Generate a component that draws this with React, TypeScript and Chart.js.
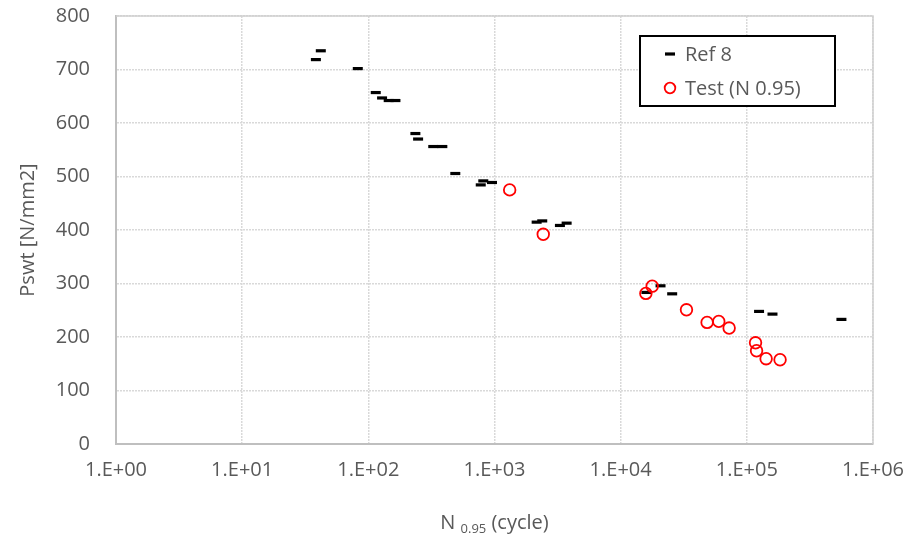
import React, { useEffect, useRef } from "react";
import { Chart, registerables } from "chart.js";

Chart.register(...registerables);

// ---- data ----
const refCycles = [38.4, 42.0, 82.5, 114.5, 128.5, 145, 164, 236, 248, 327, 386, 489, 778, 815, 955, 2158, 2390, 3300, 3730, 16000, 20700, 25600, 125000, 159700, 562000];
const refStress = [718.5, 735, 701.7, 656.9, 646.8, 642, 642, 580.3, 570, 556, 556, 505.6, 484.3, 491.8, 488.8, 414.7, 417, 408.5, 412.8, 283.3, 295.7, 280.7, 247.8, 242.8, 232.9];

const testCycles = [1319, 2434, 15840, 17780, 33230, 48430, 59930, 72400, 117200, 119400, 142200, 183400];
const testStress = [475, 392, 281.5, 295, 250.8, 227.3, 229.2, 216.7, 189.2, 174.3, 159.4, 157.5];

const seriesNames = ["Ref 8", "Test (N 0.95)"];
const xTickValues = [1, 10, 100, 1000, 10000, 100000, 1000000];
const xTickLabels = ["1.E+00", "1.E+01", "1.E+02", "1.E+03", "1.E+04", "1.E+05", "1.E+06"];
const yTickStep = 100;
const yMin = 0;
const yMax = 800;
const yTitle = "Pswt [N/mm2]";
const xTitleMain = "N";
const xTitleSub = "0.95";
const xTitleRest = "(cycle)";

const FONT = "'Open Sans', sans-serif";
const TEXT_COLOR = "#595959";

export default function App() {
  const canvasRef = useRef<HTMLCanvasElement | null>(null);

  useEffect(() => {
    document.body.style.margin = "0";
    const canvas = canvasRef.current;
    if (!canvas) return;

    const frame = {
      id: "frameAndTitles",
      beforeDatasetsDraw(chart: any) {
        const { ctx, chartArea } = chart;
        ctx.save();
        ctx.strokeStyle = "#d0d0d0";
        ctx.lineWidth = 1.5;
        ctx.beginPath();
        ctx.moveTo(chartArea.left, chartArea.top);
        ctx.lineTo(chartArea.right, chartArea.top);
        ctx.lineTo(chartArea.right, chartArea.bottom);
        ctx.stroke();
        ctx.restore();
      },
      afterDraw(chart: any) {
        const { ctx, chartArea } = chart;
        ctx.save();
        // x axis title with subscript
        const big = "20px " + FONT;
        const small = "13px " + FONT;
        ctx.fillStyle = TEXT_COLOR;
        ctx.textBaseline = "alphabetic";
        ctx.font = big;
        const w1 = ctx.measureText(xTitleMain + " ").width;
        const w3 = ctx.measureText(" " + xTitleRest).width;
        ctx.font = small;
        const w2 = ctx.measureText(xTitleSub).width;
        const total = w1 + w2 + w3;
        let x = (chartArea.left + chartArea.right) / 2 - total / 2;
        const base = 529;
        ctx.font = big;
        ctx.fillText(xTitleMain + " ", x, base);
        x += w1;
        ctx.font = small;
        ctx.fillText(xTitleSub, x, base + 4);
        x += w2;
        ctx.font = big;
        ctx.fillText(" " + xTitleRest, x, base);

        // legend
        const bx = 640, by = 36, bw = 195, bh = 70;
        ctx.fillStyle = "#ffffff";
        ctx.fillRect(bx, by, bw, bh);
        ctx.strokeStyle = "#000000";
        ctx.lineWidth = 2;
        ctx.strokeRect(bx, by, bw, bh);
        const ds = chart.data.datasets;
        const mx = 670;
        const rows = [54, 88];
        ds.forEach((d: any, i: number) => {
          const y = rows[i];
          ctx.save();
          if (d.pointStyle === "line") {
            ctx.strokeStyle = d.borderColor;
            ctx.lineWidth = d.borderWidth;
            ctx.beginPath();
            ctx.moveTo(mx - d.pointRadius, y);
            ctx.lineTo(mx + d.pointRadius, y);
            ctx.stroke();
          } else {
            ctx.strokeStyle = d.borderColor;
            ctx.lineWidth = d.borderWidth;
            ctx.beginPath();
            ctx.arc(mx, y, d.pointRadius - 0.5, 0, Math.PI * 2);
            ctx.stroke();
          }
          ctx.restore();
          ctx.font = "20px " + FONT;
          ctx.fillStyle = TEXT_COLOR;
          ctx.textBaseline = "middle";
          ctx.fillText(d.label, 685, y + 1);
        });
        ctx.restore();
      },
    };

    const chart = new Chart(canvas, {
      type: "scatter",
      data: {
        datasets: [
          {
            label: seriesNames[0],
            data: refCycles.map((c, i) => ({ x: c, y: refStress[i] })),
            pointStyle: "line",
            pointRadius: 5,
            pointHoverRadius: 5,
            borderColor: "#000000",
            backgroundColor: "#000000",
            borderWidth: 3.2,
            showLine: false,
            order: 1,
          },
          {
            label: seriesNames[1],
            data: testCycles.map((c, i) => ({ x: c, y: testStress[i] })),
            pointStyle: "circle",
            pointRadius: 5.8,
            pointHoverRadius: 5.8,
            borderColor: "#ff0000",
            backgroundColor: "rgba(0,0,0,0)",
            borderWidth: 1.8,
            showLine: false,
            order: 0,
          },
        ],
      },
      options: {
        responsive: false,
        animation: false,
        layout: { padding: { left: 0, right: 50, top: 16, bottom: 0 } },
        plugins: {
          legend: { display: false },
          tooltip: { enabled: false },
          title: { display: false },
        },
        scales: {
          x: {
            type: "logarithmic",
            min: xTickValues[0],
            max: xTickValues[xTickValues.length - 1],
            afterBuildTicks: (s: any) => {
              s.ticks = xTickValues.map((v) => ({ value: v }));
            },
            afterFit: (s: any) => {
              s.height = 93;
            },
            ticks: {
              autoSkip: false,
              maxRotation: 0,
              padding: 14,
              color: TEXT_COLOR,
              font: { family: FONT, size: 20 },
              callback: (v: any) => {
                const idx = xTickValues.indexOf(Number(v));
                return idx >= 0 ? xTickLabels[idx] : "";
              },
            },
            grid: {
              color: "#d9d9d9",
              lineWidth: 1.5,
              drawTicks: false,
            },
            border: { display: true, color: "#bfbfbf", width: 2, dash: [2, 1] },
          },
          y: {
            type: "linear",
            min: yMin,
            max: yMax,
            afterFit: (s: any) => {
              s.width = 116;
            },
            ticks: {
              stepSize: yTickStep,
              padding: 0,
              color: TEXT_COLOR,
              font: { family: FONT, size: 20 },
            },
            grid: {
              color: "#d9d9d9",
              lineWidth: 1.5,
              drawTicks: true,
              tickLength: 26,
              tickColor: "rgba(0,0,0,0)",
            },
            border: { display: true, color: "#bfbfbf", width: 2, dash: [2, 1] },
            title: {
              display: true,
              text: yTitle,
              color: TEXT_COLOR,
              font: { family: FONT, size: 20 },
              padding: { top: 16, bottom: 0 },
            },
          },
        },
      },
      plugins: [frame],
    });

    return () => {
      chart.destroy();
    };
  }, []);

  return (
    <div style={{ width: 923, height: 537 }}>
      <canvas ref={canvasRef} width={923} height={537} style={{ width: 923, height: 537 }} />
    </div>
  );
}
